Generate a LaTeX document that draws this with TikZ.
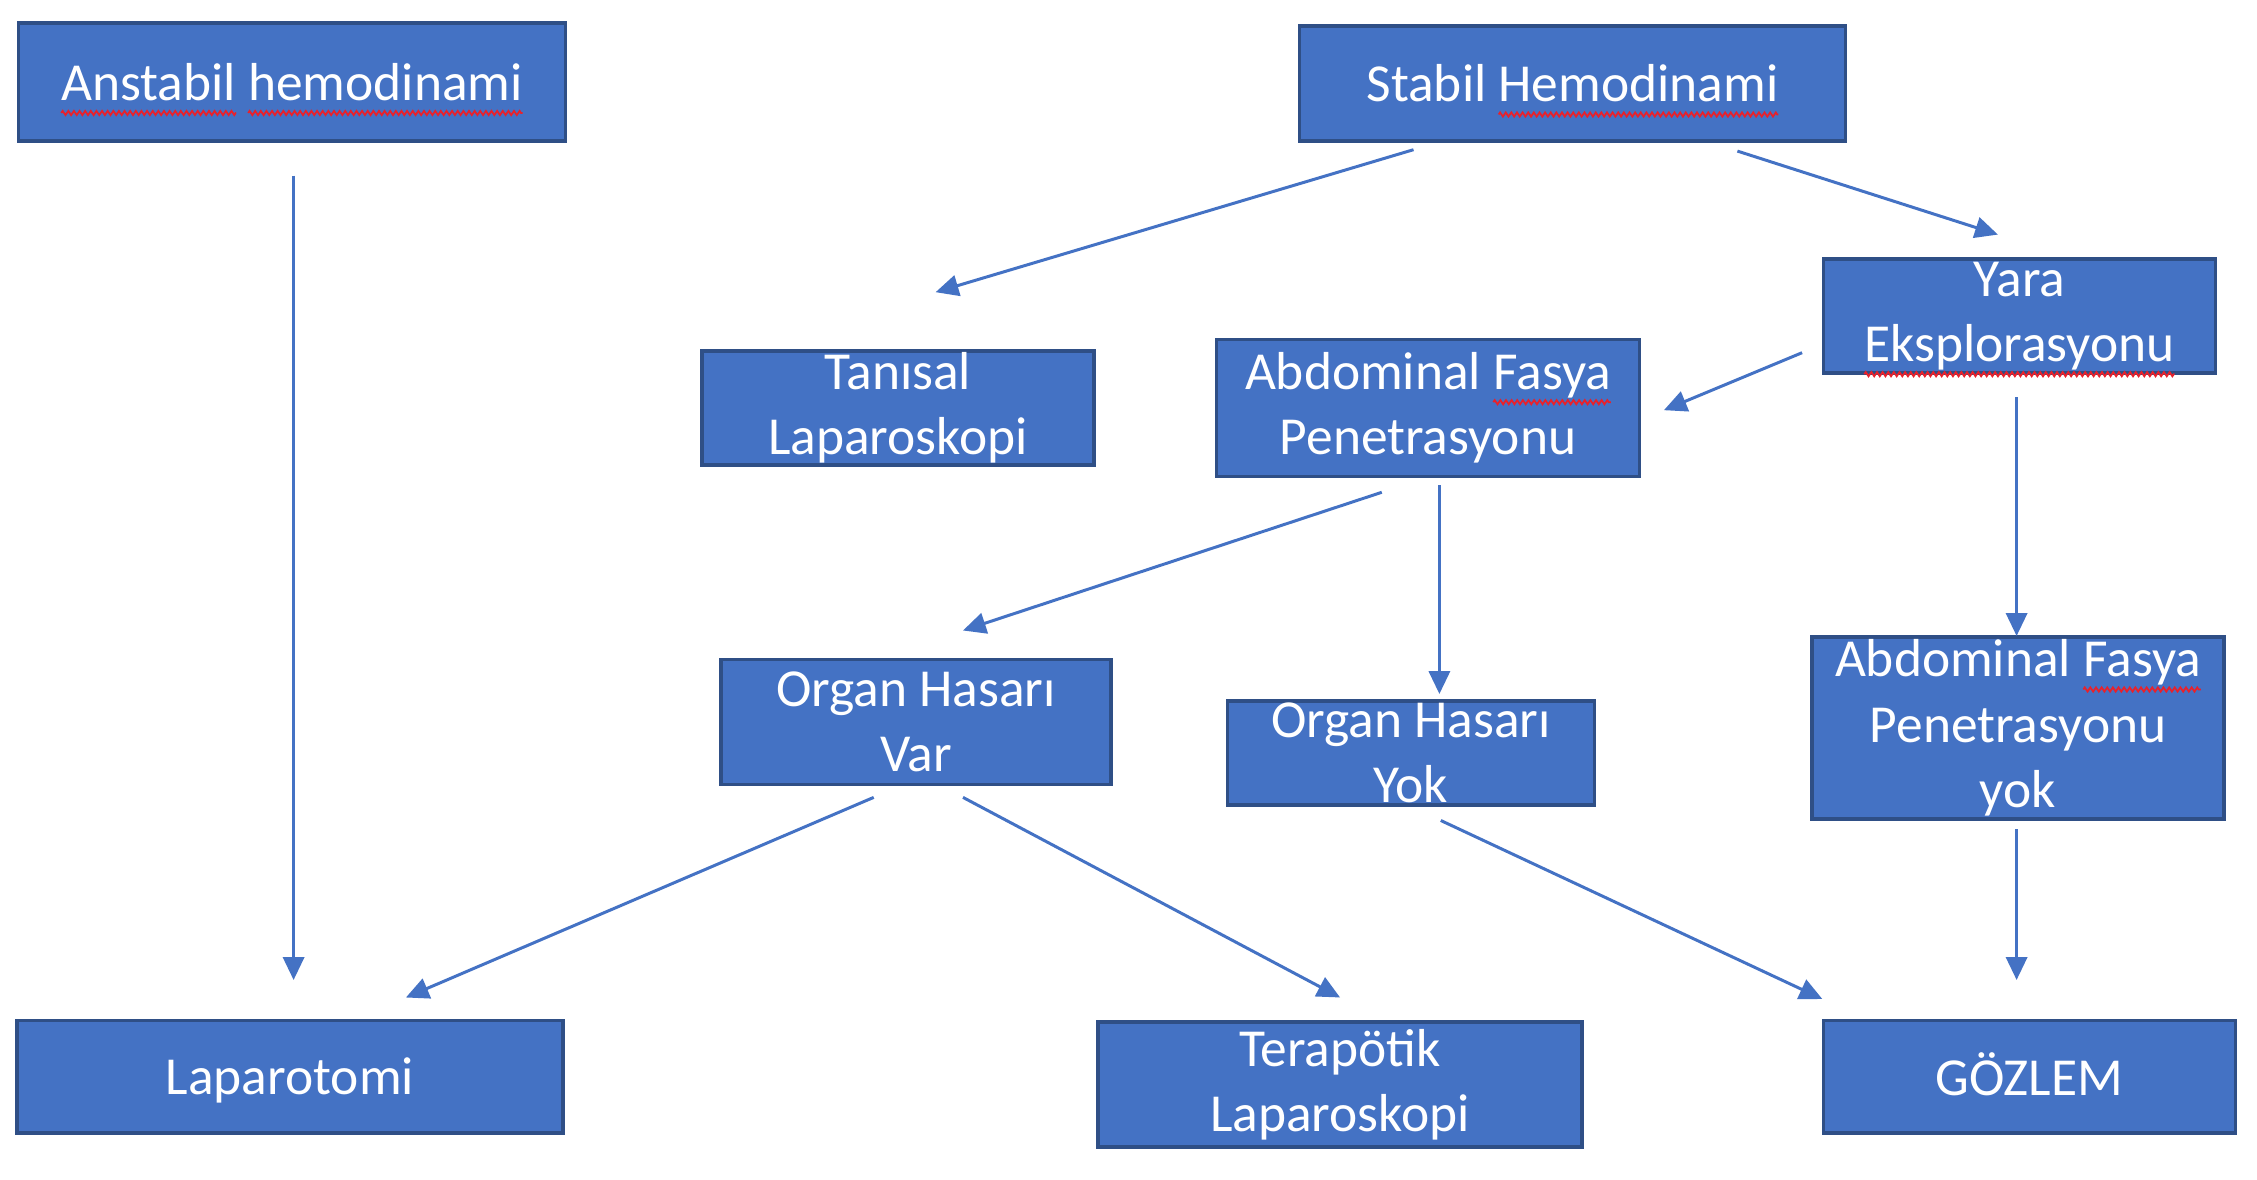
\documentclass[tikz,border=0pt]{standalone}
\usepackage{fontspec}
\setmainfont{Carlito}
\usetikzlibrary{arrows.meta,decorations.pathmorphing}
\definecolor{boxblue}{HTML}{4472C4}
\definecolor{boxedge}{HTML}{2F4F86}
\definecolor{arrblue}{HTML}{4472C4}
\definecolor{spellred}{HTML}{E8212B}
\newsavebox\spellbox
\newcommand\spellw[1]{\sbox\spellbox{#1}\leavevmode\rlap{\tikz[baseline=0pt,overlay]\draw[spellred, line width=0.5pt, decorate, decoration={zigzag, segment length=1.6pt, amplitude=0.6pt}] (0pt,-3.6pt) -- (\wd\spellbox,-3.6pt);}\usebox\spellbox}
\tikzset{
  box/.style={draw=boxedge, line width=1pt, fill=boxblue, inner sep=0pt},
  lbl/.style={text=white, align=center, inner sep=0pt, font=\fontsize{15.2}{18.6}\selectfont},
  arr/.style={draw=arrblue, line width=0.85pt, -{Triangle[length=6.5pt,width=6pt]}}
}
\begin{document}
\begin{tikzpicture}[x=0.01cm,y=-0.01cm]
\useasboundingbox (0,0) rectangle (2257,1180);
% boxes
\node[box, minimum width=5.47cm, minimum height=1.18cm] (b1) at (292,82) {};
\node[lbl] (t1) at (b1) {\spellw{Anstabil} \spellw{hemodinami}};
\node[box, minimum width=5.455cm, minimum height=1.15cm] (b2) at (1572.5,83.5) {};
\node[lbl] (t2) at (b2) {Stabil \spellw{Hemodinami}};
\node[box, minimum width=3.916cm, minimum height=1.137cm] (b3) at (2019.5,316) {};
\node[lbl] (t3) at (b3) {Yara\\\spellw{Eksplorasyonu}};
\node[box, minimum width=3.915cm, minimum height=1.137cm] (b4) at (898,408) {};
\node[lbl] (t4) at (b4) {Tanısal\\Laparoskopi};
\node[box, minimum width=4.23cm, minimum height=1.367cm] (b5) at (1428,408) {};
\node[lbl] (t5) at (b5) {Abdominal \spellw{Fasya}\\Penetrasyonu};
\node[box, minimum width=3.90cm, minimum height=1.25cm] (b6) at (916,722) {};
\node[lbl] (t6) at (b6) {Organ Hasarı\\Var};
\node[box, minimum width=3.67cm, minimum height=1.036cm] (b7) at (1411,753) {};
\node[lbl] (t7) at (b7) {Organ Hasarı\\Yok};
\node[box, minimum width=4.117cm, minimum height=1.814cm] (b8) at (2018,728) {};
\node[lbl] (t8) at (b8) {Abdominal \spellw{Fasya}\\Penetrasyonu\\yok};
\node[box, minimum width=5.455cm, minimum height=1.123cm] (b9) at (290,1076.7) {};
\node[lbl] (t9) at ([yshift=-0.04cm]b9.center) {Laparotomi};
\node[box, minimum width=4.836cm, minimum height=1.25cm] (b10) at (1340,1084.6) {};
\node[lbl] (t10) at (b10) {Terapötik\\Laparoskopi};
\node[box, minimum width=4.117cm, minimum height=1.123cm] (b11) at (2029.5,1076.7) {};
\node[lbl] (t11) at ([yshift=0.02cm]b11.center) {GÖZLEM};
% arrow end points
\coordinate (a1s) at (293.6,175.6);  \coordinate (a1e) at (293.6,980);
\coordinate (a2s) at (1413.5,149.7); \coordinate (a2e) at (935.6,292.2);
\coordinate (a3s) at (1737.4,151.1); \coordinate (a3e) at (1997.9,234.6);
\coordinate (a4s) at (1802.1,352.7); \coordinate (a4e) at (1663.9,410.2);
\coordinate (a5s) at (2016.6,397.3); \coordinate (a5e) at (2016.6,636);
\coordinate (a6s) at (1381.8,492.3); \coordinate (a6e) at (963,630.5);
\coordinate (a7s) at (1439.4,485.1); \coordinate (a7e) at (1439.4,694);
\coordinate (a8s) at (873.7,797.4);  \coordinate (a8e) at (405.9,997.5);
\coordinate (a9s) at (963,797.4);    \coordinate (a9e) at (1340.1,997.5);
\coordinate (a10s) at (1440.8,820.5); \coordinate (a10e) at (1822.3,999);
\coordinate (a11s) at (2016.6,829.1); \coordinate (a11e) at (2016.6,980);
\foreach \i in {1,...,11} {\draw[arr] (a\i s) -- (a\i e);}
\end{tikzpicture}
\end{document}
